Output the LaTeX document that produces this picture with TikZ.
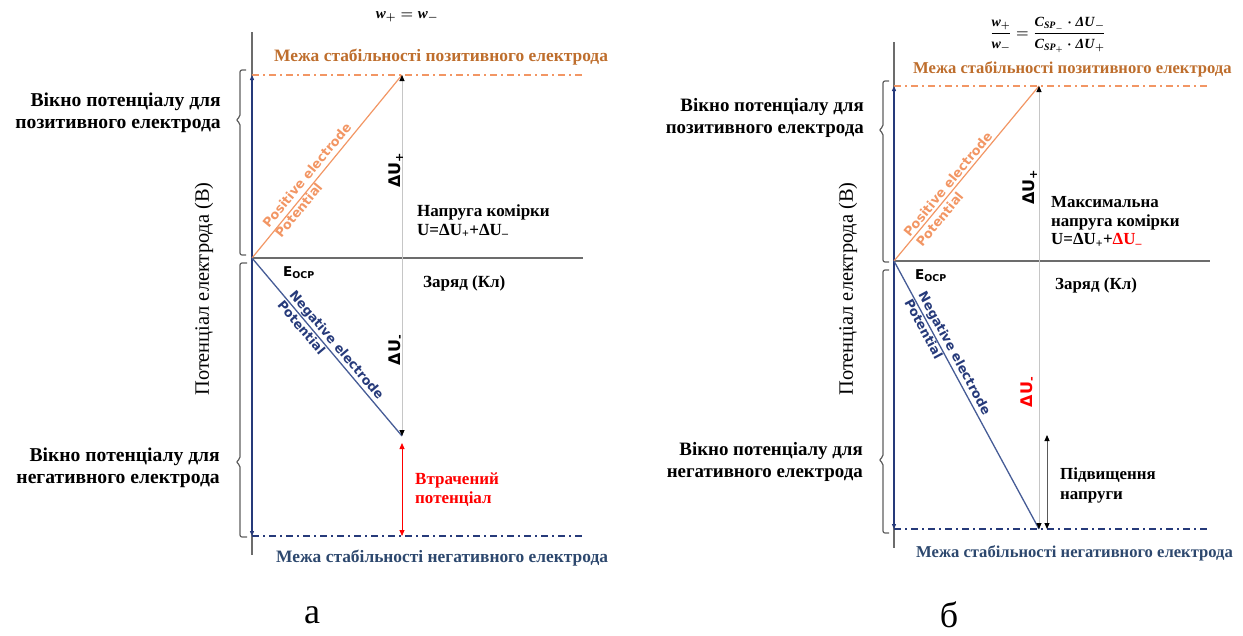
\documentclass[tikz,border=0pt]{standalone}
\usepackage{fontspec}
\setmainfont{Liberation Serif}
\newfontfamily\dejavu{DejaVu Sans}
\usepackage{amsmath}
\usepackage{xcolor}
\usetikzlibrary{arrows.meta}

\definecolor{posorange}{RGB}{242,150,100}
\definecolor{limorange}{RGB}{190,110,45}
\definecolor{navyline}{RGB}{38,58,122}
\definecolor{negblue}{RGB}{70,92,150}
\definecolor{limnavy}{RGB}{45,72,110}
\definecolor{axisgray}{RGB}{108,108,108}

% bold italic letters for the formulas
\newcommand{\bi}[1]{\textbf{\textit{#1}}}

\begin{document}
\begin{tikzpicture}[
    x=1pt, y=-1pt,
    axis/.style={draw=axisgray, line width=1.6pt},
    window/.style={
        draw=navyline,
        line width=2pt,
        {Triangle[length=5pt,width=4pt]}-{Triangle[length=5pt,width=4pt]}
    },
    poslim/.style={
        draw=posorange,
        line width=1.2pt,
        dash pattern=on 7pt off 4pt on 2pt off 4pt
    },
    neglim/.style={
        draw=navyline,
        line width=1.9pt,
        dash pattern=on 7pt off 4pt on 2pt off 4pt
    },
    posline/.style={draw=posorange, line width=1.2pt},
    negline/.style={draw=negblue, line width=1.3pt},
    guide/.style={
        draw=gray!45,
        line width=0.9pt,
        {Triangle[black,length=6pt,width=5pt]}-{Triangle[black,length=6pt,width=5pt]}
    },
    lost/.style={
        draw=red,
        line width=0.8pt,
        {Triangle[length=6pt,width=5pt]}-{Triangle[length=6pt,width=5pt]}
    },
    rise/.style={
        draw=gray!70!black,
        line width=0.9pt,
        {Triangle[black,length=6pt,width=5pt]}-{Triangle[black,length=6pt,width=5pt]}
    },
    brc/.style={draw=gray!75!black, line width=1.2pt, rounded corners=2pt},
    winlbl/.style={
        inner sep=0pt,
        align=right,
        anchor=east,
        font=\bfseries\fontsize{19.6}{21.5}\selectfont
    },
    limlbl/.style={
        inner sep=0pt,
        anchor=west,
        font=\bfseries\fontsize{17.4}{20}\selectfont
    },
    txt/.style={
        inner sep=0pt,
        align=left,
        anchor=west,
        font=\bfseries\fontsize{17}{19}\selectfont
    },
    ylbl/.style={
        inner sep=0pt,
        rotate=90,
        font=\fontsize{20.4}{22}\selectfont
    },
    elec/.style={
        inner sep=0pt,
        align=left,
        font=\dejavu\bfseries\fontsize{12.8}{16}\selectfont
    },
    dulbl/.style={
        inner sep=0pt,
        rotate=90,
        font=\dejavu\bfseries\fontsize{16}{18}\selectfont
    },
    ocp/.style={inner sep=0pt, font=\dejavu\bfseries\fontsize{13.5}{16}\selectfont},
    panel/.style={inner sep=0pt, font=\fontsize{36}{38}\selectfont}
]
\useasboundingbox (0,0) rectangle (1243,635);

% ---------------- Panel a ----------------
\coordinate (Oa) at (252,258);
\coordinate (Pa) at (402,75);
\coordinate (Na) at (402,436);
\coordinate (Ba) at (402,536);

% axes
\draw[axis] (252,32) -- (252,555);
\draw[axis] (Oa) -- (583,258);

% stability limits
\draw[poslim] (252,75) -- (583,75);
\draw[neglim] (252,536) -- (583,536);
\draw[window] (252,75) -- (252,536);

% electrode potentials
\draw[posline] (Oa) -- (Pa);
\draw[negline] (Oa) -- (Na);
\draw[guide] (Pa) -- (Na);
\draw[lost] ([yshift=-7pt]Na) -- (Ba);

% braces
\draw[brc] (246,70) -- (240,70) -- (240,117) -- (236,120) -- (240,123) -- (240,255) -- (246,255);
\draw[brc] (247,263) -- (240,263) -- (240,459) -- (236,462) -- (240,465) -- (240,537) -- (247,537);

% labels
\node[inner sep=0pt, font=\boldmath\fontsize{15}{17}\selectfont] (eqa) at (407,17)
    {$\bi{w}_+ = \bi{w}_-$};
\node[limlbl, text=limorange] (limPa) at (274,57) {Межа стабільності позитивного електрода};
\node[limlbl, text=limnavy] (limNa) at (276,558) {Межа стабільності негативного електрода};
\node[winlbl] (winPa) at (221,113) {Вікно потенціалу для\\позитивного електрода};
\node[winlbl] (winNa) at (220,468) {Вікно потенціалу для\\негативного електрода};
\node[ylbl] (ya) at (204,289) {Потенціал електрода (В)};
\node[elec, rotate=50.5, text=posorange] (posa) at (313,180) {Positive electrode\\Potential};
\node[elec, rotate=-49.7, text=navyline] (nega) at (331,350) {Negative electrode\\Potential};
\node[ocp] (ocpa) at (299,273) {E\textsubscript{OCP}};
\node[dulbl] (dupa) at (396,170) {ΔU\textsubscript{+}};
\node[dulbl] (duna) at (396,350) {ΔU\textsubscript{-}};
\node[txt] (cella) at (417,221) {Напруга комірки\\U=ΔU\textsubscript{+}+ΔU\textsubscript{–}};
\node[txt] (qa) at (423,283) {Заряд (Кл)};
\node[txt, text=red] (lossa) at (415,490) {Втрачений\\потенціал};
\node[panel] (pa) at (312,615) {а};

% ---------------- Panel b ----------------
\coordinate (Ob) at (894,261);
\coordinate (Pb) at (1039,86);
\coordinate (Nb) at (1039,529);
\coordinate (Rt) at (1047,435);
\coordinate (Rb) at (1047,529);

% axes
\draw[axis] (894,42) -- (894,548);
\draw[axis] (Ob) -- (1210,261);

% stability limits
\draw[poslim] (894,86) -- (1210,86);
\draw[neglim] (894,529) -- (1210,529);
\draw[window] (894,86) -- (894,529);

% electrode potentials
\draw[posline] (Ob) -- (Pb);
\draw[negline] (Ob) -- (Nb);
\draw[guide] (Pb) -- (Nb);
\draw[rise] (Rt) -- (Rb);

% braces
\draw[brc] (889,81) -- (883,81) -- (883,127) -- (879,130) -- (883,133) -- (883,262) -- (889,262);
\draw[brc] (889,270) -- (883,270) -- (883,457) -- (879,460) -- (883,463) -- (883,533) -- (889,533);

% labels
\node[inner sep=0pt, font=\boldmath\fontsize{14}{16}\selectfont] (eqb) at (1048,35)
    {$\dfrac{\bi{w}_+}{\bi{w}_-} = \dfrac{\bi{C}_{\bi{SP}_-}\cdot \bi{ΔU}_-}{\bi{C}_{\bi{SP}_+}\cdot \bi{ΔU}_+}$};
\node[limlbl, text=limorange, font=\bfseries\fontsize{16.6}{20}\selectfont] (limPb) at (913,69) {Межа стабільності позитивного електрода};
\node[limlbl, text=limnavy, font=\bfseries\fontsize{16.6}{20}\selectfont] (limNb) at (916,553) {Межа стабільності негативного електрода};
\node[winlbl, font=\bfseries\fontsize{18.9}{21.5}\selectfont] (winPb) at (864,118) {Вікно потенціалу для\\позитивного електрода};
\node[winlbl, font=\bfseries\fontsize{18.9}{21.5}\selectfont] (winNb) at (863,462) {Вікно потенціалу для\\негативного електрода};
\node[ylbl] (yb) at (848,289) {Потенціал електрода (В)};
\node[elec, rotate=50.5, text=posorange] (posb) at (954,189) {Positive electrode\\Potential};
\node[elec, rotate=-61.6, text=navyline] (negb) at (948,357) {Negative electrode\\Potential};
\node[ocp] (ocpb) at (931,276) {E\textsubscript{OCP}};
\node[dulbl] (dupb) at (1030,187) {ΔU\textsubscript{+}};
\node[dulbl, text=red] (dunb) at (1028,392) {ΔU\textsubscript{-}};
\node[txt, font=\bfseries\fontsize{16.9}{18.5}\selectfont] (cellb) at (1051,222) {Максимальна\\напруга комірки\\U=ΔU\textsubscript{+}+\textcolor{red}{ΔU\textsubscript{–}}};
\node[txt, font=\bfseries\fontsize{16.9}{19}\selectfont] (qb) at (1055,285) {Заряд (Кл)};
\node[txt, font=\bfseries\fontsize{16.9}{20}\selectfont] (riseb) at (1060,485) {Підвищення\\напруги};
\node[panel] (pb) at (949,615) {б};

\end{tikzpicture}
\end{document}
